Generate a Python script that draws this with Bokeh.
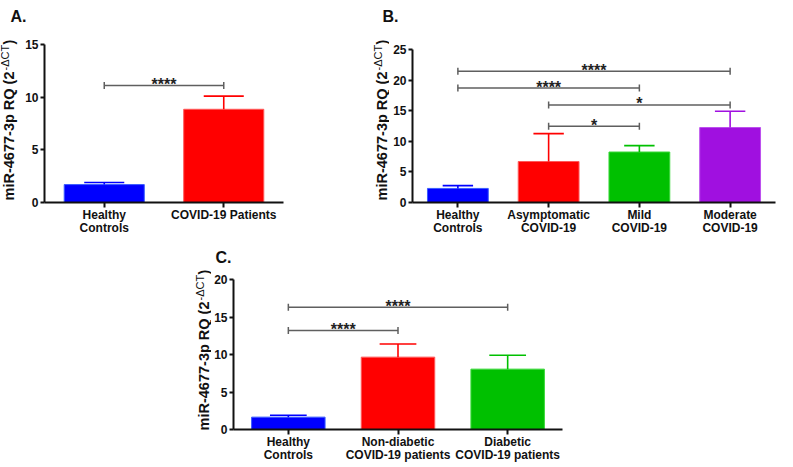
import math
from bokeh.plotting import figure
from bokeh.models import Range1d, FixedTicker, Spacer, LinearAxis
from bokeh.layouts import row, column
from bokeh.embed import file_html
from bokeh.resources import INLINE
from bokeh.core.properties import value

FONT = "Liberation Sans"
INK = "#111111"

# ---------------- data ----------------
a_groups = ["Healthy\nControls", "COVID-19 Patients"]
a_means = [1.7, 8.85]
a_errs = [0.2, 1.25]
a_colors = ["#0000FF", "#FF0000"]
a_edges = ["#3a5cff", "#ff5a5a"]
a_pairs = [(0, 1)]
a_pair_y = [11.1]
a_stars = ["****"]
a_yticks = [0, 5, 10, 15]

b_groups = ["Healthy\nControls", "Asymptomatic\nCOVID-19", "Mild\nCOVID-19", "Moderate\nCOVID-19"]
b_means = [2.3, 6.7, 8.25, 12.25]
b_errs = [0.45, 4.55, 1.05, 2.65]
b_colors = ["#0000FF", "#FF0000", "#00C000", "#A010E0"]
b_edges = ["#3a5cff", "#ff5a5a", "#3ad83a", "#bb50ee"]
b_pairs = [(0, 3), (0, 2), (1, 3), (1, 2)]
b_pair_y = [21.45, 18.7, 15.95, 12.45]
b_stars = ["****", "****", "*", "*"]
b_yticks = [0, 5, 10, 15, 20, 25]

c_groups = ["Healthy\nControls", "Non-diabetic\nCOVID-19 patients", "Diabetic\nCOVID-19 patients"]
c_means = [1.65, 9.65, 8.05]
c_errs = [0.25, 1.75, 1.85]
c_colors = ["#0000FF", "#FF0000", "#00C000"]
c_edges = ["#3a5cff", "#ff5a5a", "#3ad83a"]
c_pairs = [(0, 2), (0, 1)]
c_pair_y = [16.3, 13.2]
c_stars = ["****", "****"]
c_yticks = [0, 5, 10, 15, 20]

panel_letters = ["A.", "B.", "C."]
YLABEL_MAIN = "miR-4677-3p RQ (2"
YLABEL_SUP = "-ΔCT"
YLABEL_END = ")"


def style_axis(ax):
    ax.axis_line_width = 2
    ax.axis_line_color = INK
    ax.major_tick_line_width = 2
    ax.major_tick_line_color = INK
    ax.major_tick_in = 0
    ax.major_tick_out = 5
    ax.minor_tick_line_color = None
    ax.major_label_text_font = FONT
    ax.major_label_text_font_style = "bold"
    ax.major_label_text_font_size = "12px"
    ax.major_label_text_color = INK
    ax.axis_label = None


def make_panel(groups, means, errs, colors, edges, pairs, pair_y, stars, yticks,
               width, height, borders):
    n = len(groups)
    centers = [i + 0.5 for i in range(n)]
    p = figure(width=width, height=height, output_backend="svg", toolbar_location=None,
               x_range=Range1d(0, n), y_range=Range1d(0, yticks[-1]),
               min_border_left=borders[0], min_border_right=borders[1],
               min_border_top=borders[2], min_border_bottom=borders[3])
    p.outline_line_color = None
    p.xgrid.visible = False
    p.ygrid.visible = False

    bw = 0.67
    p.vbar(x=centers, top=means, width=bw, bottom=0, fill_color=colors,
           line_color=edges, line_width=1)
    uppers = [m + e for m, e in zip(means, errs)]
    p.segment(x0=centers, y0=means, x1=centers, y1=uppers, line_color=colors, line_width=1.6)
    p.segment(x0=[c - bw / 4 for c in centers], y0=uppers,
              x1=[c + bw / 4 for c in centers], y1=uppers, line_color=colors, line_width=1.6)

    gray = "#5f5f5f"
    x0 = [centers[i] for i, j in pairs]
    x1 = [centers[j] for i, j in pairs]
    p.segment(x0=x0, y0=pair_y, x1=x1, y1=pair_y, line_color=gray, line_width=1.5)
    p.scatter(x=x0 + x1, y=pair_y + pair_y, marker="dash", angle=math.pi / 2, size=7,
              line_color=gray, line_width=1.5)
    p.text(x=[(a + b) / 2 for a, b in zip(x0, x1)], y=pair_y, text=stars,
           text_align="center", text_baseline="alphabetic", y_offset=-1,
           text_font=value(FONT), text_font_style="bold", text_font_size="16px",
           text_color="#222222")

    style_axis(p.xaxis[0])
    style_axis(p.yaxis[0])
    line1 = [g.split("\n")[0] for g in groups]
    line2 = [(g.split("\n") + [""])[1] for g in groups]
    p.xaxis.ticker = FixedTicker(ticks=centers)
    p.xaxis.major_label_overrides = {c: t for c, t in zip(centers, line1)}
    p.xaxis.major_label_standoff = 0
    ax2 = LinearAxis(ticker=FixedTicker(ticks=centers),
                     major_label_overrides={c: t for c, t in zip(centers, line2)})
    style_axis(ax2)
    ax2.axis_line_color = None
    ax2.major_tick_line_color = None
    ax2.major_tick_out = 0
    ax2.major_label_standoff = -4
    p.add_layout(ax2, "below")
    p.yaxis.ticker = FixedTicker(ticks=yticks)
    p.yaxis.major_tick_out = 4
    p.yaxis.major_label_standoff = 2
    return p


def strip(w, h):
    f = figure(width=w, height=h, output_backend="svg", toolbar_location=None,
               x_range=Range1d(0, w), y_range=Range1d(0, h), min_border=0,
               x_axis_location=None, y_axis_location=None)
    f.outline_line_color = None
    f.xgrid.visible = False
    f.ygrid.visible = False
    return f


def add_letters(f, xs, ys, texts):
    f.text(x=xs, y=ys, text=texts, text_font=value(FONT), text_font_style="bold",
           text_font_size="16px", text_baseline="middle", text_align="left",
           text_color=INK)


def ylabel_strip(w, h, cx, yj):
    # yj: junction between "(2" and the superscript
    f = strip(w, h)
    f.text(x=[cx], y=[yj], text=[YLABEL_MAIN], angle=math.pi / 2,
           text_font=value(FONT), text_font_style="bold", text_font_size="14.5px",
           text_baseline="middle", text_align="right", text_color=INK)
    f.text(x=[cx - 4], y=[yj + 1], text=[YLABEL_SUP], angle=math.pi / 2,
           text_font=value(FONT), text_font_size="11px",
           text_baseline="middle", text_align="left", text_color=INK)
    f.text(x=[cx], y=[yj + 27], text=[YLABEL_END], angle=math.pi / 2,
           text_font=value(FONT), text_font_style="bold", text_font_size="14.5px",
           text_baseline="middle", text_align="left", text_color=INK)
    return f


pA = make_panel(a_groups, a_means, a_errs, a_colors, a_edges, a_pairs, a_pair_y, a_stars,
                a_yticks, 348, 211, (20, 87, 17, 36))
pB = make_panel(b_groups, b_means, b_errs, b_colors, b_edges, b_pairs, b_pair_y, b_stars,
                b_yticks, 388, 206, (23, 2, 17, 36))
pC = make_panel(c_groups, c_means, c_errs, c_colors, c_edges, c_pairs, c_pair_y, c_stars,
                c_yticks, 371, 198, (20, 20, 12, 36))

top_letters = strip(777, 27)
add_letters(top_letters, [10, 382], [11, 11], panel_letters[:2])
c_letter = strip(400, 29)
add_letters(c_letter, [33], [10], panel_letters[2:])

yA = ylabel_strip(22, 211, 8, 167)
yB = ylabel_strip(19, 211, 11, 167)
yC = ylabel_strip(29, 198, 21, 164)

layout = column(
    top_letters,
    row(column(yA), column(pA), column(yB), column(Spacer(width=388, height=5), pB)),
    row(Spacer(width=182, height=227),
        column(c_letter, row(column(yC), column(pC)))),
)

open("out.html", "w").write(file_html(layout, INLINE))
